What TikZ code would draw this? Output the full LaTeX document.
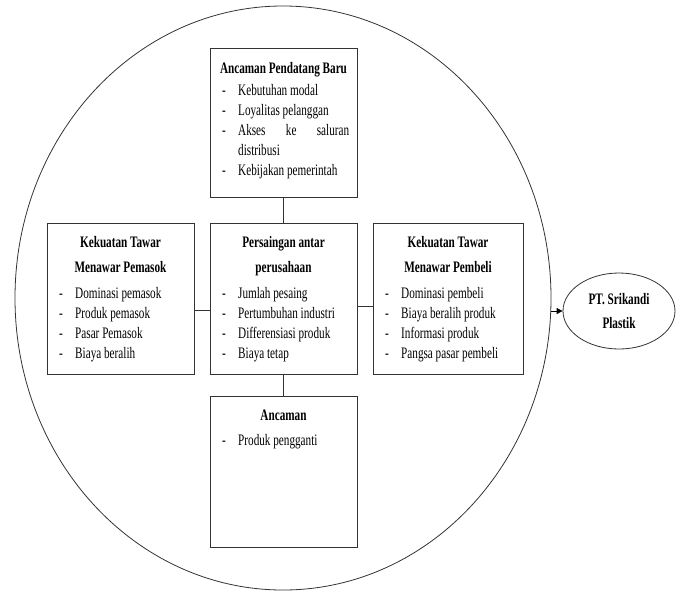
\documentclass[tikz,border=0pt]{standalone}
\usepackage{fontspec}
\setmainfont{Liberation Serif}[FakeStretch=0.7]
\usepackage{tikz}
\usetikzlibrary{arrows.meta,positioning,shapes.geometric}
\definecolor{garisgray}{HTML}{333333}
\tikzset{kotak/.style={rectangle,draw=garisgray,line width=.8pt,
 minimum width=147pt,minimum height=151pt,inner sep=0pt},
 judul/.style={anchor=base,inner sep=0pt,align=center,
 font=\fontsize{16}{25}\selectfont\bfseries},
 daftar/.style={anchor=base west,inner sep=0pt,align=left,
 font=\fontsize{16}{20}\selectfont},
 lingkar/.style={ellipse,draw=garisgray,line width=.8pt,inner sep=0pt},
 garis/.style={draw=garisgray,line width=.8pt},
 panah/.style={draw=black,line width=.8pt,-{Triangle[length=6pt,width=6pt]}}}
\newcommand{\butir}{\makebox[16pt][l]{-}}
\begin{document}
\begin{tikzpicture}[x=1pt,y=-1pt]
 \useasboundingbox (0,0) rectangle (679,592);
 \node[lingkar,minimum width=536pt,minimum height=584pt] (industri) at (283,298) {};
 % kotak-kotak
 \node[kotak,minimum height=149pt] (baru) at (283.5,122.5) {};
 \node[kotak] (pemasok) at (120.5,298.5) {};
 \node[kotak] (persaingan) at (283.5,298.5) {};
 \node[kotak,minimum width=150pt] (pembeli) at (448,298.5) {};
 \node[kotak] (pengganti) at (283.5,471.5) {};
 \node[lingkar,minimum width=112pt,minimum height=76pt,align=center,
  font=\fontsize{16}{24}\selectfont\bfseries] (srikandi) at (619,311) {PT. Srikandi\\Plastik};
 % isi (base = baris terakhir)
 \node[judul] (baruJudul) at (283.5,73) {Ancaman Pendatang Baru};
 \node[daftar] (baruIsi) at (222,175) {\butir Kebutuhan modal\\
  \butir Loyalitas pelanggan\\
  \butir\makebox[111pt][s]{Akses ke saluran}\\
  \hspace*{16pt}distribusi\\
  \butir Kebijakan pemerintah};
 \node[judul] (pemasokJudul) at (120.5,272) {Kekuatan Tawar\\Menawar Pemasok};
 \node[daftar] (pemasokIsi) at (59,358) {\butir Dominasi pemasok\\
  \butir Produk pemasok\\
  \butir Pasar Pemasok\\
  \butir Biaya beralih};
 \node[judul] (persainganJudul) at (283.5,272) {Persaingan antar\\perusahaan};
 \node[daftar] (persainganIsi) at (222,358) {\butir Jumlah pesaing\\
  \butir Pertumbuhan industri\\
  \butir Differensiasi produk\\
  \butir Biaya tetap};
 \node[judul] (pembeliJudul) at (448,272) {Kekuatan Tawar\\Menawar Pembeli};
 \node[daftar] (pembeliIsi) at (385,358) {\butir Dominasi pembeli\\
  \butir Biaya beralih produk\\
  \butir Informasi produk\\
  \butir Pangsa pasar pembeli};
 \node[judul] (penggantiJudul) at (283.5,420) {Ancaman};
 \node[daftar] (penggantiIsi) at (222,445) {\butir Produk pengganti};
 % garis
 \draw[garis] (baru) -- (persaingan);
 \draw[garis] (persaingan) -- (pengganti);
 \draw[garis] ([yshift=-11.5pt]pemasok.east) -- ([yshift=-11.5pt]persaingan.west);
 \draw[garis] ([yshift=-8pt]persaingan.east) -- ([yshift=-8pt]pembeli.west);
 \draw[panah] (industri.east |- srikandi.west) -- (srikandi.west);
\end{tikzpicture}
\end{document}
